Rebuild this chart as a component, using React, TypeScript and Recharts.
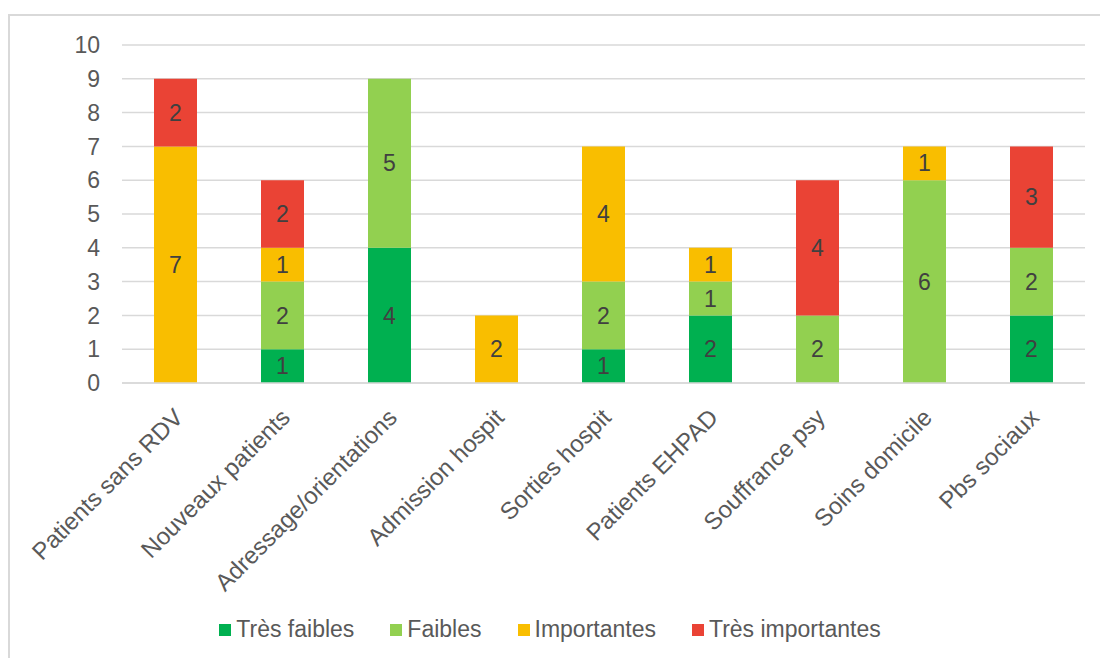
import { BarChart, Bar, XAxis, YAxis, CartesianGrid, LabelList } from "recharts";

const categories = [
  "Patients sans RDV",
  "Nouveaux patients",
  "Adressage/orientations",
  "Admission hospit",
  "Sorties hospit",
  "Patients EHPAD",
  "Souffrance psy",
  "Soins domicile",
  "Pbs sociaux",
];

const tresFaibles = [0, 1, 4, 0, 1, 2, 0, 0, 2];
const faibles = [0, 2, 5, 0, 2, 1, 2, 6, 2];
const importantes = [7, 1, 0, 2, 4, 1, 0, 1, 0];
const tresImportantes = [2, 2, 0, 0, 0, 0, 4, 0, 3];

const yTicks = [0, 1, 2, 3, 4, 5, 6, 7, 8, 9, 10];

const series = [
  { key: "tresFaibles", name: "Très faibles", color: "#00B050" },
  { key: "faibles", name: "Faibles", color: "#92D050" },
  { key: "importantes", name: "Importantes", color: "#F9BE00" },
  { key: "tresImportantes", name: "Très importantes", color: "#EA4335" },
];

const data = categories.map((name, i) => ({
  name,
  tresFaibles: tresFaibles[i],
  faibles: faibles[i],
  importantes: importantes[i],
  tresImportantes: tresImportantes[i],
}));

const FONT = "'Liberation Sans', Arial, sans-serif";
const FS = 23;

const CategoryTick = (props: any) => {
  const { x, y, payload } = props;
  const ax = x + 9;
  const ay = y + 28;
  return (
    <text
      x={ax}
      y={ay}
      transform={`rotate(-45, ${ax}, ${ay})`}
      textAnchor="end"
      fill="#595959"
      fontSize={24}
      fontFamily={FONT}
    >
      {payload.value}
    </text>
  );
};

const hideZero = (v: any) => (v ? v : "");

// legend row under the plot
const ChartLegend = () => (
  <div
    style={{
      position: "absolute",
      top: 616,
      left: 0,
      width: 1100,
      display: "flex",
      justifyContent: "center",
      fontFamily: FONT,
      fontSize: FS,
      color: "#595959",
      paddingLeft: 36,
      boxSizing: "border-box",
    }}
  >
    {series.map((s) => (
      <div key={s.key} style={{ display: "flex", alignItems: "center", marginRight: 36 }}>
        <span style={{ width: 12, height: 12, background: s.color, marginRight: 5, display: "inline-block" }} />
        <span>{s.name}</span>
      </div>
    ))}
  </div>
);

export default function App() {
  return (
    <div style={{ position: "fixed", left: 0, top: 0, width: 1100, height: 658, overflow: "hidden", background: "#fff" }}>
      <div
        style={{
          position: "absolute",
          left: 8,
          top: 14,
          width: 1200,
          height: 800,
          border: "2px solid #d9d9d9",
        }}
      />
      <div style={{ position: "absolute", left: 0, top: 0 }}>
        <BarChart
          width={1100}
          height={658}
          data={data}
          margin={{ top: 45, right: 15, left: 0, bottom: 75 }}
          barSize={43}
        >
          <CartesianGrid vertical={false} stroke="#d9d9d9" strokeWidth={1.5} />
          <XAxis
            dataKey="name"
            interval={0}
            height={200}
            tickLine={false}
            axisLine={{ stroke: "#d9d9d9", strokeWidth: 1.5 }}
            tick={<CategoryTick />}
          />
          <YAxis
            width={122}
            domain={[0, 10]}
            ticks={yTicks}
            interval={0}
            axisLine={false}
            tickLine={false}
            tickSize={0}
            tickMargin={22}
            tick={{ fill: "#595959", fontSize: FS, fontFamily: FONT }}
          />
          {series.map((s) => (
            <Bar
              key={s.key}
              dataKey={s.key}
              name={s.name}
              stackId="a"
              fill={s.color}
              isAnimationActive={false}
            >
              <LabelList
                dataKey={s.key}
                position="center"
                formatter={hideZero}
                fill="#404040"
                fontSize={FS}
                fontFamily={FONT}
              />
            </Bar>
          ))}
        </BarChart>
      </div>
      <ChartLegend />
    </div>
  );
}
